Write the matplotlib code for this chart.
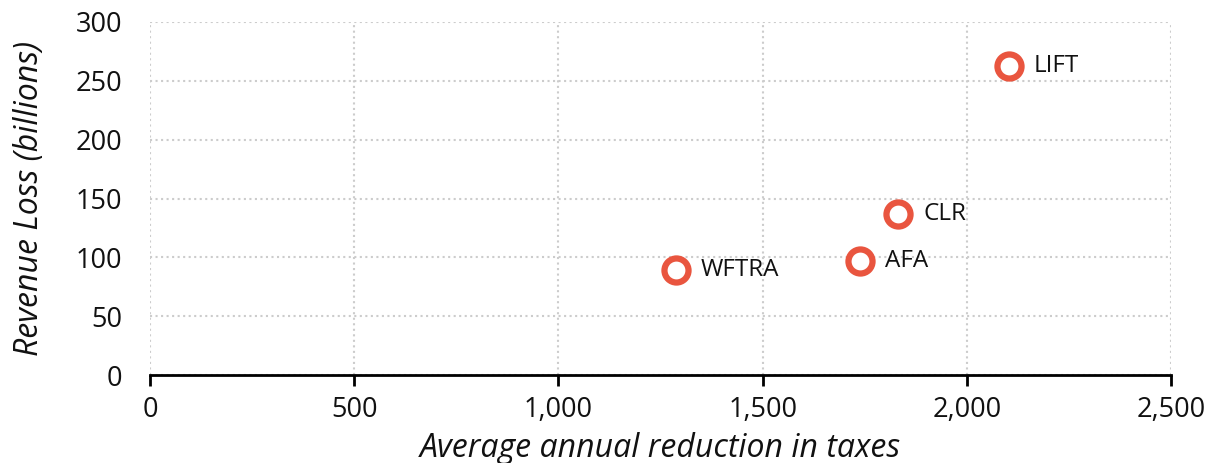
from matplotlib import pyplot as plt
from matplotlib.ticker import FuncFormatter

plt.rcParams['font.family'] = ['Open Sans', 'DejaVu Sans']

names = ['LIFT', 'CLR', 'AFA', 'WFTRA']
tax_cut = [2103, 1832, 1739, 1288]
revenue_loss = [262.5, 137, 97, 89]

x_ticks = [0, 500, 1000, 1500, 2000, 2500]
y_ticks = [0, 50, 100, 150, 200, 250, 300]

fig = plt.figure(figsize=(12.07, 4.63), dpi=100)
ax = fig.add_axes([0.1243, 0.19, 0.8459, 0.7625])

ax.scatter(tax_cut, revenue_loss, s=300, facecolor='white', edgecolor='#E9553F',
           linewidth=4.5, zorder=3, clip_on=False)
for name, x, y in zip(names, tax_cut, revenue_loss):
    ax.annotate(name, (x, y), xytext=(18, 0), textcoords='offset points',
                va='center', ha='left', fontsize=17.5, color='#111111')

ax.set_xlim(0, 2500)
ax.set_ylim(0, 300)
ax.set_xticks(x_ticks)
ax.set_yticks(y_ticks)
ax.xaxis.set_major_formatter(FuncFormatter(lambda v, p: f'{int(v):,}'))

ax.grid(True, color='#cccccc', linestyle=':', linewidth=1.5)
ax.set_axisbelow(True)
for side in ['top', 'right', 'left']:
    ax.spines[side].set_visible(False)
ax.spines['bottom'].set_linewidth(2)
ax.tick_params(axis='x', length=8, width=2, labelsize=19.5, pad=7, labelcolor='#111111')
ax.tick_params(axis='y', length=0, labelsize=19.5, pad=20, labelcolor='#111111')

ax.set_xlabel('Average annual reduction in taxes', fontsize=23, style='italic', color='#111111')
ax.xaxis.set_label_coords(0.5, -0.16)
ax.set_ylabel('Revenue Loss (billions)', fontsize=23, style='italic', labelpad=21, color='#111111')

fig.savefig('out.png', dpi=100)
